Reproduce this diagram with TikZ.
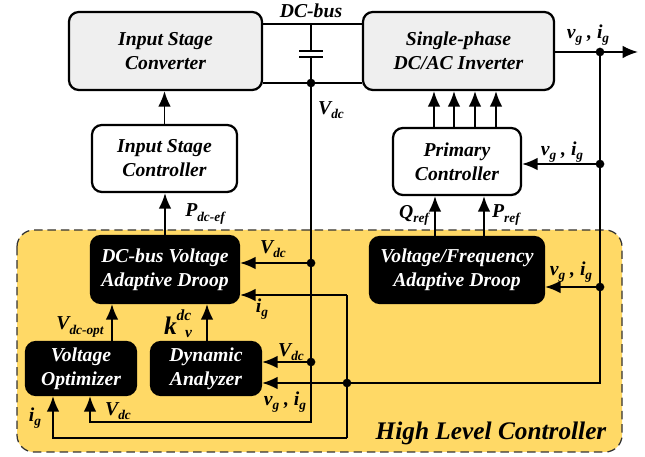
\documentclass[tikz,border=0pt]{standalone}
\usepackage{fontspec}
\setmainfont{Liberation Serif}
\usepackage{tikz}
\usetikzlibrary{
  calc,        % shifted anchors
  arrows.meta  % Latex tips
}

\definecolor{hlcyellow}{RGB}{255,217,102}
\definecolor{boxgray}{RGB}{239,239,239}
\newcommand{\sgl}[2]{\textbf{\textit{#1\raisebox{-0.45ex}{\fontsize{9.5}{10}\selectfont #2}}}}

\begin{document}
\begin{tikzpicture}[x=0.025cm, y=-0.025cm,
    blk/.style={draw, line width=1.6pt, rounded corners=7pt, fill=boxgray,
      align=center, inner sep=0pt, font=\fontsize{14}{17}\selectfont\bfseries\itshape},
    ctl/.style={blk, fill=white},
    hlc/.style={blk, fill=black, text=white},
    wire/.style={line width=1.3pt},
    sig/.style={wire, -{Latex[length=11pt,width=9pt]}},
    lbl/.style={font=\fontsize{14}{16}\selectfont\bfseries\itshape, inner sep=0pt}]
  \useasboundingbox (0,0) rectangle (645,457);

  % high level controller area
  \draw[dash pattern=on 6pt off 3.5pt, line width=0.9pt, draw=black!80,
    fill=hlcyellow, rounded corners=12pt] (17,230) rectangle (622,452);
  \node[lbl, font=\fontsize{18}{20}\selectfont\bfseries\itshape] (hlctext) at (491,433) {High Level Controller};

  % blocks
  \node[blk, minimum width=4.825cm, minimum height=1.95cm] (conv) at (165.5,51) {Input Stage\\Converter};
  \node[blk, minimum width=4.775cm, minimum height=1.95cm] (inv) at (458.5,51) {Single-phase\\DC/AC Inverter};
  \node[ctl, minimum width=3.625cm, minimum height=1.675cm] (isc) at (164.5,158.5) {Input Stage\\Controller};
  \node[ctl, minimum width=3.2cm, minimum height=1.675cm] (pc) at (457,161.5) {Primary\\Controller};
  \node[hlc, minimum width=3.7cm, minimum height=1.675cm] (droop) at (165,269.5) {DC-bus Voltage\\Adaptive Droop};
  \node[hlc, minimum width=4.35cm, minimum height=1.65cm] (vf) at (457,270) {Voltage/Frequency\\Adaptive Droop};
  \node[hlc, minimum width=2.75cm, minimum height=1.325cm] (vopt) at (81,368.5) {Voltage\\Optimizer};
  \node[hlc, minimum width=2.75cm, minimum height=1.325cm] (dyn) at (206,368.5) {Dynamic\\Analyzer};

  % junctions
  \coordinate (bj) at (311,83);
  \coordinate (vd1) at (311,263);
  \coordinate (vd2) at (311,362);
  \coordinate (vcorner) at (311,422);
  \coordinate (gj1) at (600,52);
  \coordinate (gj2) at (600,164);
  \coordinate (gj3) at (600,287);
  \coordinate (gcorner) at (600,383);
  \coordinate (ij) at (347,383);
  \coordinate (it) at (347,295);
  \coordinate (ib) at (347,438);
  \coordinate (gout) at (638,52);

  % dc bus and capacitor
  \draw[wire] (conv.east |- 0,24) -- (inv.west |- 0,24);
  \draw[wire] (conv.east |- bj) -- (inv.west |- bj);
  \draw[wire] (311,24) -- (311,51);
  \draw[wire] (299,51) -- (323,51);
  \draw[wire] (299,57) -- (323,57);
  \draw[wire] (311,57) -- (bj);
  \node[lbl] (busname) at (311,11) {DC-bus};

  % upward signals
  \draw[sig] (isc.north) -- (isc.north |- conv.south);
  \draw[sig] (droop.north) -- (droop.north |- isc.south);
  \foreach \x in {434,454,475,496}
    \draw[sig] (pc.north -| \x,0) -- (inv.south -| \x,0);
  \draw[sig] (vf.north -| 435,0) -- (pc.south -| 435,0);
  \draw[sig] (vf.north -| 484,0) -- (pc.south -| 484,0);
  \draw[sig] (vopt.north -| 112,0) -- (droop.south -| 112,0);
  \draw[sig] (dyn.north -| 207,0) -- (droop.south -| 207,0);

  % dc voltage measurement
  \draw[sig] (bj) -- (vcorner) -| ($(vopt.south)+(9,0)$);
  \draw[sig] (vd1) -- (droop.east |- vd1);
  \draw[sig] (vd2) -- (dyn.east |- vd2);

  % grid voltage and current
  \draw[sig] (inv.east |- gj1) -- (gout);
  \draw[sig] (gj1) -- (gcorner) -- (dyn.east |- gcorner);
  \draw[sig] (gj2) -- (pc.east |- gj2);
  \draw[sig] (gj3) -- (vf.east |- gj3);
  \draw[sig] (it) -- (droop.east |- it);
  \draw[wire] (it) -- (ib);
  \draw[sig] (ib) -| ($(vopt.south)+(-28,0)$);

  \foreach \p in {bj,vd1,vd2,gj1,gj2,gj3,ij}
    \fill (\p) circle (3.1pt);

  % labels
  \node[lbl] (vdctop) at (331,110) {\sgl{V}{dc}};
  \node[lbl] (vgout) at (588,35) {\sgl{v}{g} , \sgl{i}{g}};
  \node[lbl] (vgpc) at (562,152) {\sgl{v}{g} , \sgl{i}{g}};
  \node[lbl] (qref) at (414,215) {\sgl{Q}{ref}};
  \node[lbl] (pref) at (506,215) {\sgl{P}{ref}};
  \node[lbl] (pdcef) at (205,214) {\sgl{P}{dc-ef}};
  \node[lbl] (vdcdroop) at (273,249) {\sgl{V}{dc}};
  \node[lbl] (igdroop) at (262,309) {\sgl{i}{g}};
  \node[lbl] (vgvf) at (571,272) {\sgl{v}{g} , \sgl{i}{g}};
  \node[lbl] (vdcdyn) at (291,352) {\sgl{V}{dc}};
  \node[lbl] (vgdyn) at (285,402) {\sgl{v}{g} , \sgl{i}{g}};
  \node[lbl] (vdcopt) at (80,327) {\sgl{V}{dc-opt}};
  \node[lbl] (kdcv) at (178,324) {\fontsize{18}{18}\selectfont k\rlap{\raisebox{10pt}{\fontsize{11}{11}\selectfont dc}}\hspace{6pt}\raisebox{-2pt}{\fontsize{11}{11}\selectfont v}};
  \node[lbl] (igopt) at (35,418) {\sgl{i}{g}};
  \node[lbl] (vdcopt2) at (118,411) {\sgl{V}{dc}};
\end{tikzpicture}
\end{document}
